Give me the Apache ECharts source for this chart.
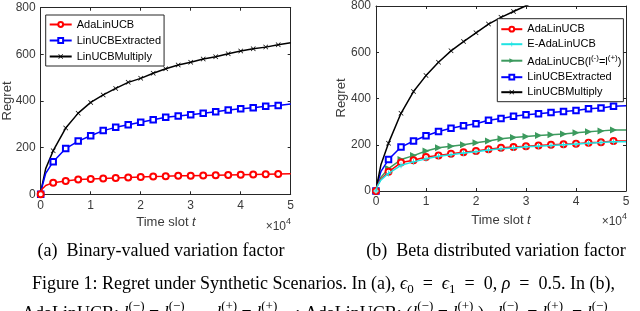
<!DOCTYPE html>
<html>
<head>
<meta charset="utf-8">
<script src="https://cdn.jsdelivr.net/npm/echarts@6/dist/echarts.min.js"></script>
<style>
html,body{margin:0;padding:0;background:#fff;}
#c{width:640px;height:311px;}
</style>
</head>
<body>
<div id="c"></div>
<script>
// ---- data (time slots and regret values) ----
const timeSlots = [0, 250, 1000, 2500, 5000, 7500, 10000, 12500, 15000, 17500, 20000, 22500, 25000, 27500, 30000, 32500, 35000, 37500, 40000, 42500, 45000, 47500, 50000];

// (a) Binary-valued variation factor
const aAdaLinUCB      = [0, 22, 38, 50, 57, 63, 66, 68, 70, 72, 74, 76, 77, 79, 80, 81, 82, 83, 84, 85, 86, 87, 88];
const aLinUCBExtracted = [0, 30, 90, 140, 196, 228, 251, 273, 287, 298, 309, 320, 330, 336, 341, 347, 354, 361, 367, 371, 377, 381, 387];
const aLinUCBMultiply  = [0, 35, 110, 187, 284, 348, 394, 426, 454, 480, 497, 519, 538, 554, 566, 580, 590, 603, 614, 624, 631, 641, 650];

// (b) Beta distributed variation factor
const bAdaLinUCB      = [0, 22, 52, 83, 123, 133, 147, 154, 161, 168, 173, 181, 187, 190, 194, 197, 200, 202, 204, 209, 211, 216, 216];
const bEAdaLinUCB     = [0, 20, 48, 76, 111, 126, 139, 150, 157, 164, 170, 177, 183, 186, 191, 194, 197, 200, 203, 207, 210, 213, 213];
const bAdaLinUCBEq    = [0, 25, 60, 97, 136, 153, 173, 187, 194, 200, 209, 216, 226, 231, 236, 240, 243, 247, 252, 256, 260, 264, 264];
const bLinUCBExtracted = [0, 30, 85, 136, 190, 216, 239, 257, 271, 282, 291, 306, 314, 323, 330, 334, 339, 344, 348, 356, 359, 366, 369];
const bLinUCBMultiply  = [0, 35, 115, 207, 336, 430, 499, 557, 606, 646, 684, 722, 751, 776, 801, 826];

const xTickLabels = ['0', '1', '2', '3', '4', '5'];
const yTickLabels = ['0', '200', '400', '600', '800'];

const names = {
  ada: 'AdaLinUCB',
  eada: 'E-AdaLinUCB',
  eq: 'AdaLinUCB(l(-)=l(+))',
  ext: 'LinUCBExtracted',
  mul: 'LinUCBMultiply'
};

// ---- helpers ----
const X_SYM = 'path://M1,0L5,4L9,0L10,1L6,5L10,9L9,10L5,6L1,10L0,9L4,5L0,1Z';
const PLUS_SYM = 'path://M4.3,0H5.7V4.3H10V5.7H5.7V10H4.3V5.7H0V4.3H4.3Z';
const TRI_SYM = 'path://M0,0L10,5L0,10Z';

function isMarker(t) { return t % 2500 === 0 && t < 50000; }
function pts(vals) {
  return vals.map((v, i) => {
    const t = timeSlots[i];
    const d = { value: [t, v] };
    if (!isMarker(t)) d.symbol = 'none';
    return d;
  });
}
function mkSeries(name, vals, color, symbol, size, idx, filled, z) {
  return {
    type: 'line', name: name, xAxisIndex: idx, yAxisIndex: idx,
    data: pts(vals), symbol: symbol, symbolSize: size, showSymbol: true,
    clip: true, smooth: false, z: z,
    lineStyle: { color: color, width: 1.5 },
    itemStyle: filled ? { color: color } : { color: color, borderColor: color, borderWidth: 1.3 },
    emphasis: { disabled: true },
    animation: false
  };
}

const axisCol = '#262626';
const labelCol = '#3a3a3a';
const FONT = '"Liberation Sans", Arial, Helvetica, sans-serif';
const SERIF = '"Liberation Serif", "Times New Roman", serif';

function xAxes(gridIndex) {
  return [
    { type: 'value', gridIndex: gridIndex, min: 0, max: 50000, interval: 10000, position: 'bottom',
      axisLine: { show: true, lineStyle: { color: axisCol, width: 1 } },
      axisTick: { show: true, inside: true, length: 3, lineStyle: { color: axisCol } },
      axisLabel: { show: true, margin: 5, color: labelCol, fontSize: 12, fontFamily: FONT,
        formatter: v => xTickLabels[Math.round(v / 10000)] },
      splitLine: { show: false } },
    { type: 'value', gridIndex: gridIndex, min: 0, max: 50000, interval: 10000, position: 'top',
      axisLine: { show: true, onZero: false, lineStyle: { color: axisCol, width: 1 } },
      axisTick: { show: true, inside: true, length: 3, lineStyle: { color: axisCol } },
      axisLabel: { show: false }, splitLine: { show: false } }
  ];
}
function yAxes(gridIndex) {
  return [
    { type: 'value', gridIndex: gridIndex, min: 0, max: 800, interval: 200, position: 'left',
      axisLine: { show: true, onZero: false, lineStyle: { color: axisCol, width: 1 } },
      axisTick: { show: true, inside: true, length: 3, lineStyle: { color: axisCol } },
      axisLabel: { show: true, margin: 5, color: labelCol, fontSize: 12, fontFamily: FONT,
        formatter: v => yTickLabels[Math.round(v / 200)] },
      splitLine: { show: false } },
    { type: 'value', gridIndex: gridIndex, min: 0, max: 800, interval: 200, position: 'right',
      axisLine: { show: true, onZero: false, lineStyle: { color: axisCol, width: 1 } },
      axisTick: { show: true, inside: true, length: 3, lineStyle: { color: axisCol } },
      axisLabel: { show: false }, splitLine: { show: false } }
  ];
}

const RED = '#ff0000', BLUE = '#0000ff', BLACK = '#000000', CYAN = '#1fe3e3', GREEN = '#3c9a5e';

const series = [
  // panel (a)
  mkSeries(names.ada, aAdaLinUCB, RED, 'emptyCircle', 6, 0, false, 3),
  mkSeries(names.ext, aLinUCBExtracted, BLUE, 'emptyRect', 5.5, 0, false, 2),
  mkSeries(names.mul, aLinUCBMultiply, BLACK, X_SYM, 5, 0, true, 1),
  // panel (b)
  mkSeries(names.ada, bAdaLinUCB, RED, 'emptyCircle', 6, 2, false, 2),
  mkSeries(names.eada, bEAdaLinUCB, CYAN, PLUS_SYM, 6, 2, true, 3),
  mkSeries(names.eq, bAdaLinUCBEq, GREEN, TRI_SYM, 7, 2, true, 1),
  mkSeries(names.ext, bLinUCBExtracted, BLUE, 'emptyRect', 5.5, 2, false, 1),
  mkSeries(names.mul, bLinUCBMultiply, BLACK, X_SYM, 5, 2, true, 1)
];
series.forEach((s, i) => { s.id = 's' + i; });

const xa = xAxes(0).concat(xAxes(1));
const ya = yAxes(0).concat(yAxes(1));

const chart = echarts.init(document.getElementById('c'), null, { renderer: 'canvas' });

const SP = '\u00a0';
const SP2 = SP + SP, SP4 = SP2 + SP2;
const graphics = [
  // y titles
  { type: 'text', x: 7, y: 101, rotation: Math.PI / 2, silent: true,
    style: { text: 'Regret', fill: labelCol, font: '13px ' + FONT, align: 'center', verticalAlign: 'middle' } },
  { type: 'text', x: 341, y: 98, rotation: Math.PI / 2, silent: true,
    style: { text: 'Regret', fill: labelCol, font: '13px ' + FONT, align: 'center', verticalAlign: 'middle' } },
  // x titles
  { type: 'text', x: 166, y: 222, silent: true,
    style: { text: '{n|Time slot }{i|t}', align: 'center', verticalAlign: 'middle',
      rich: { n: { fill: labelCol, font: '13px ' + FONT }, i: { fill: labelCol, font: 'italic 13px ' + FONT } } } },
  { type: 'text', x: 501, y: 220, silent: true,
    style: { text: '{n|Time slot }{i|t}', align: 'center', verticalAlign: 'middle',
      rich: { n: { fill: labelCol, font: '13px ' + FONT }, i: { fill: labelCol, font: 'italic 13px ' + FONT } } } },
  // x10^4
  { type: 'text', x: 291, y: 225, silent: true,
    style: { text: '{n|×10}{s|4}', align: 'right', verticalAlign: 'middle',
      rich: { n: { fill: labelCol, font: '12px ' + FONT, lineHeight: 16, verticalAlign: 'bottom' },
              s: { fill: labelCol, font: '9px ' + FONT, lineHeight: 9, verticalAlign: 'top' } } } },
  { type: 'text', x: 627, y: 220, silent: true,
    style: { text: '{n|×10}{s|4}', align: 'right', verticalAlign: 'middle',
      rich: { n: { fill: labelCol, font: '12px ' + FONT, lineHeight: 16, verticalAlign: 'bottom' },
              s: { fill: labelCol, font: '9px ' + FONT, lineHeight: 9, verticalAlign: 'top' } } } },
  // sub captions
  { type: 'text', x: 161, y: 251, silent: true,
    style: { text: '(a)  Binary-valued variation factor', fill: '#000', font: '18px ' + SERIF, align: 'center', verticalAlign: 'middle' } },
  { type: 'text', x: 496, y: 251, silent: true,
    style: { text: '(b)  Beta distributed variation factor', fill: '#000', font: '18px ' + SERIF, align: 'center', verticalAlign: 'middle' } },
  // figure caption line 1
  { type: 'text', x: 32, y: 286, silent: true,
    style: {
      text: '{n|Figure 1: Regret under Synthetic Scenarios. In (a), }{i|ϵ}{b|0}{n|' + SP + ' = ' + SP + '}{i|ϵ}{b|1}{n|' + SP + ' = ' + SP + '0, }{i|ρ}{n|' + SP + ' = ' + SP + '0.5. In (b),}',
      align: 'left', verticalAlign: 'middle',
      rich: {
        n: { fill: '#000', font: '18px ' + SERIF, lineHeight: 21, verticalAlign: 'top' },
        i: { fill: '#000', font: 'italic 18px ' + SERIF, lineHeight: 21, verticalAlign: 'top' },
        b: { fill: '#000', font: '13px ' + SERIF, lineHeight: 13, verticalAlign: 'bottom' }
      } } },
  // figure caption line 2 (cut off by the picture edge)
  { type: 'text', x: 22, y: 312, silent: true,
    style: {
      text: '{n|AdaLinUCB: }{i|l}{s|(−)}{n|' + SP + '= }{i|l}{s|(−)}{n|' + SP4 + ',' + SP + ' }{i|l}{s|(+)}{n|' + SP + '= }{i|l}{s|(+)}{n|' + SP4 + '; AdaLinUCB: (}{i|l}{s|(−)}{n|' + SP + '= }{i|l}{s|(+)}{n|' + SP + '),' + SP2 + '}{i|l}{s|(−)}{n|' + SP2 + '= }{i|l}{s|(+)}{n|' + SP2 + '= }{i|l}{s|(−)}',
      align: 'left', verticalAlign: 'middle',
      rich: {
        n: { fill: '#000', font: '18px ' + SERIF, lineHeight: 23, verticalAlign: 'bottom' },
        i: { fill: '#000', font: 'italic 18px ' + SERIF, lineHeight: 23, verticalAlign: 'bottom' },
        s: { fill: '#000', font: '13px ' + SERIF, lineHeight: 13, verticalAlign: 'top' }
      } } }
];

const legendText = {
  fontSize: 11, fontFamily: FONT, color: '#000', lineHeight: 10,
  rich: {
    n: { fontSize: 11, fontFamily: FONT, color: '#000', lineHeight: 14, verticalAlign: 'bottom' },
    s: { fontSize: 8, fontFamily: FONT, color: '#000', lineHeight: 8, verticalAlign: 'top' }
  }
};

chart.setOption({
  animation: false,
  backgroundColor: '#ffffff',
  grid: [
    { left: 40.7, top: 7.7, width: 250, height: 186.6, containLabel: false },
    { left: 376, top: 4.3, width: 250, height: 186.7, containLabel: false }
  ],
  xAxis: xa,
  yAxis: ya,
  legend: [
    { orient: 'vertical', left: 45.7, top: 15, itemWidth: 22, itemHeight: 6, itemGap: 5,
      padding: [4, 3, 4, 3], borderColor: axisCol, borderWidth: 1, borderRadius: 0, backgroundColor: '#fff',
      data: [names.ada, names.ext, names.mul].map(n => ({ name: n })),
      textStyle: legendText, selectedMode: false, z: 10 },
    { orient: 'vertical', left: 497.3, top: 18.7, itemWidth: 21, itemHeight: 6, itemGap: 4,
      padding: [5, 2, 4, 3], borderColor: axisCol, borderWidth: 1, borderRadius: 0, backgroundColor: '#fff',
      data: [names.ada, names.eada, names.eq, names.ext, names.mul].map(n => ({ name: n })),
      formatter: n => n === names.eq ? '{n|AdaLinUCB(l}{s|(-)}{n|=l}{s|(+)}{n|)}' : n,
      textStyle: legendText, selectedMode: false, z: 10 }
  ],
  series: series,
  graphic: graphics
});
</script>
</body>
</html>
